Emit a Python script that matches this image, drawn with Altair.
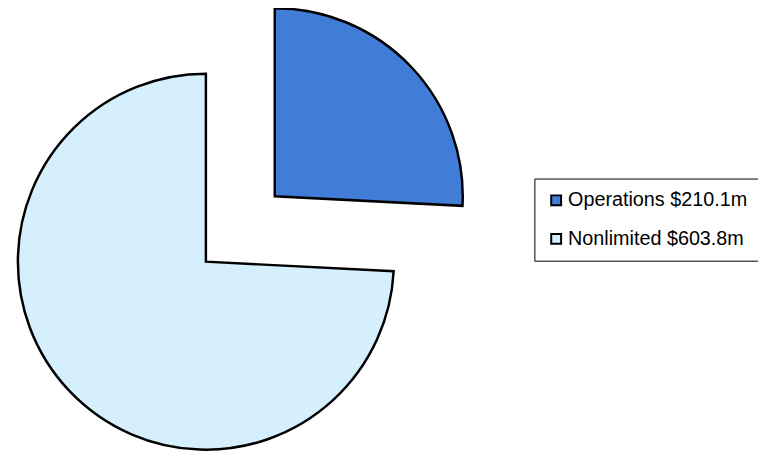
import math
import altair as alt
import pandas as pd

categories = ["Operations", "Nonlimited"]
values = [210.1, 603.8]
labels = ["Operations $210.1m", "Nonlimited $603.8m"]
explode = [1.0, 0.0]
colors = ["#417CD6", "#D5EFFD"]

total = sum(values)
rows = []
acc = 0.0
for cat, val, lab, ex in zip(categories, values, labels, explode):
    start, end = acc, acc + val
    mid = (start + end) / 2 / total * 2 * math.pi
    rows.append({
        "category": cat, "label": lab, "value": val,
        "start": start, "end": end,
        "dx": ex * math.sin(mid), "dy": ex * math.cos(mid),
    })
    acc = end
df = pd.DataFrame(rows)

chart = alt.Chart(df).mark_arc(
    radius=190, stroke="black", strokeWidth=2.5
).encode(
    theta=alt.Theta("start:Q", scale=alt.Scale(domain=[0, total], range=[0, 2 * math.pi])),
    theta2="end:Q",
    x=alt.X("dx:Q", scale=alt.Scale(domain=[0, 1], range=[200, 296]), axis=None),
    y=alt.Y("dy:Q", scale=alt.Scale(domain=[0, 1], range=[254, 158]), axis=None),
    color=alt.Color(
        "label:N",
        scale=alt.Scale(domain=labels, range=colors),
        sort=labels,
        legend=alt.Legend(
            title=None, orient="none", legendX=532, legendY=170,
            symbolType="square", symbolSize=100, symbolStrokeColor="black",
            symbolStrokeWidth=2, symbolOpacity=1,
            labelFont="Liberation Sans", labelFontSize=20, labelColor="black",
            labelLimit=400,
            labelOffset=2, rowPadding=19, padding=12,
            strokeColor="black", fillColor="white",
        ),
    ),
    order=alt.Order("start:Q"),
).properties(
    width=758, height=446, padding=0, autosize=alt.AutoSizeParams(type="none")
).configure_view(stroke=None)

chart.save("out.html", embed_options={"renderer": "svg", "actions": False})
